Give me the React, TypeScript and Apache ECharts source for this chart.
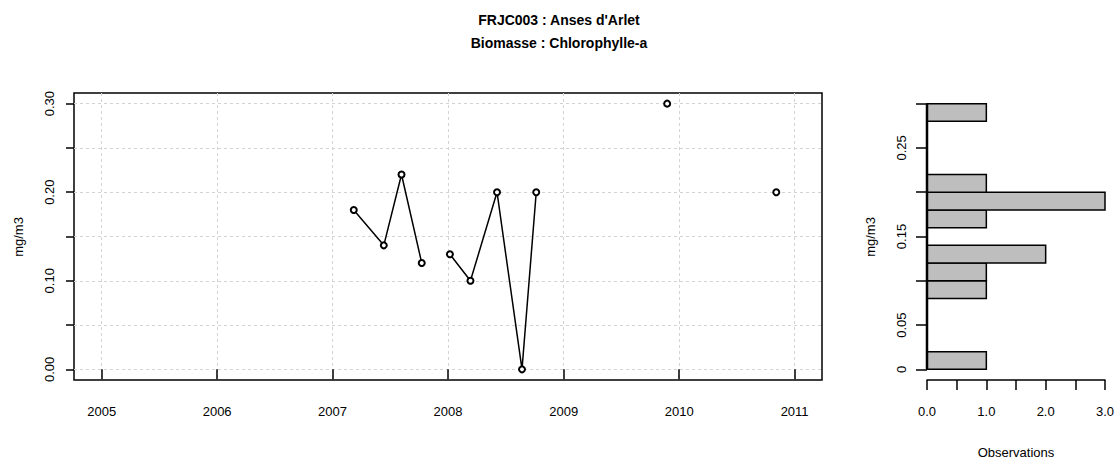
import React, { useEffect, useRef } from 'react';
import * as echarts from 'echarts';

// ---- data ----
const sampleDates = [
  '2007-03-09', '2007-06-12', '2007-08-07', '2007-10-10',
  '2008-01-07', '2008-03-12', '2008-06-04', '2008-08-22', '2008-10-06',
  '2009-11-24', '2010-11-04',
];
const chlaValues = [0.18, 0.14, 0.22, 0.12, 0.13, 0.10, 0.20, 0.00, 0.20, 0.30, 0.20];
// indices where the drawn line is interrupted (no line from the previous point)
const breaksBefore = [4, 9, 10];

const yearTicks = [2005, 2006, 2007, 2008, 2009, 2010, 2011];
const xRangeStart = '2005-01-01';
const xRangeEnd = '2010-12-31';
const yTicks = [0, 0.05, 0.1, 0.15, 0.2, 0.25, 0.3];
const yTickLabels = [0, 0.1, 0.2, 0.3];

// histogram (horizontal) : bins [low, high] and observation counts
const histLow = [0.0, 0.08, 0.1, 0.12, 0.16, 0.18, 0.2, 0.28];
const histHigh = [0.02, 0.1, 0.12, 0.14, 0.18, 0.2, 0.22, 0.3];
const histCounts = [1, 1, 1, 2, 1, 3, 1, 1];
const histYTickLabels = [0, 0.05, 0.15, 0.25];
const histXTicks = [0, 0.5, 1, 1.5, 2, 2.5, 3];
const histXTickLabels = [0, 1, 2, 3];
const histAxisSpan = [0, 0.3];

const titleLines = ["FRJC003 : Anses d'Arlet", 'Biomasse : Chlorophylle-a'];
const yName = 'mg/m3';
const histXName = 'Observations';

const FONT = '"Liberation Sans", Arial, Helvetica, sans-serif';

export default function App() {
  const ref = useRef<HTMLDivElement>(null);

  useEffect(() => {
    if (!ref.current) return;
    const chart = echarts.init(ref.current, undefined, { renderer: 'svg' });

    const t0 = Date.parse(xRangeStart);
    const t1 = Date.parse(xRangeEnd);
    const ext = (t1 - t0) * 0.04;
    const xMin = t0 - ext;
    const xMax = t1 + ext;
    const yearTs = yearTicks.map((y) => Date.UTC(y, 0, 1));

    const lineData: any[] = [];
    sampleDates.forEach((d, i) => {
      const t = Date.parse(d);
      if (breaksBefore.includes(i)) lineData.push([t, '-']);
      lineData.push([t, chlaValues[i]]);
    });

    const histData = histCounts.map((c, i) => [histLow[i], histHigh[i], c]);

    const splitStyle = { color: '#D3D3D3', type: [3, 3] as any, width: 1 };
    const tickStyle = { color: '#000', width: 1.5 };
    const labelBase = { color: '#000', fontSize: 13, fontFamily: FONT };

    chart.setOption({
      animation: false,
      backgroundColor: '#fff',
      textStyle: { fontFamily: FONT },
      grid: [
        { left: 74, top: 93, width: 748, height: 287, show: true, borderColor: '#000', borderWidth: 1.5, backgroundColor: 'transparent' },
        { left: 927, top: 93, width: 178, height: 287, show: false },
      ],
      xAxis: [
        {
          type: 'value', gridIndex: 0, min: xMin, max: xMax,
          axisLine: { show: false },
          axisTick: { show: true, length: 10, customValues: yearTs, lineStyle: tickStyle },
          axisLabel: {
            ...labelBase, customValues: yearTs, margin: 25,
            formatter: (v: number) => String(new Date(v).getUTCFullYear()),
          },
          splitLine: { show: true, lineStyle: splitStyle },
        },
        {
          type: 'value', gridIndex: 1, min: 0, max: 3,
          axisLine: { show: true, onZero: false, lineStyle: { color: '#000', width: 1.5 } },
          axisTick: { show: true, length: 10, customValues: histXTicks, lineStyle: tickStyle },
          axisLabel: { ...labelBase, margin: 25, customValues: histXTickLabels, formatter: (v: number) => v.toFixed(1) },
          splitLine: { show: false },
        },
      ],
      yAxis: [
        {
          type: 'value', gridIndex: 0, min: -0.012, max: 0.312,
          axisLine: { show: false },
          axisTick: { show: true, length: 8, customValues: yTicks, lineStyle: tickStyle },
          axisLabel: { ...labelBase, customValues: yTickLabels, rotate: 90, margin: 18, formatter: (v: number) => v.toFixed(2) },
          splitLine: { show: true, lineStyle: splitStyle },
        },
        {
          type: 'value', gridIndex: 1, min: -0.012, max: 0.312,
          axisLine: { show: false },
          axisTick: { show: true, length: 11, customValues: yTicks, lineStyle: tickStyle },
          axisLabel: {
            ...labelBase, customValues: histYTickLabels, rotate: 90, margin: 19,
            formatter: (v: number) => (v === 0 ? '0' : v.toFixed(2)),
          },
          splitLine: { show: false },
        },
      ],
      series: [
        {
          type: 'line', xAxisIndex: 0, yAxisIndex: 0, data: lineData,
          connectNulls: false,
          symbol: 'emptyCircle', symbolSize: 6,
          lineStyle: { color: '#000', width: 1.5 },
          itemStyle: { color: '#000', borderColor: '#000', borderWidth: 1.5 },
          z: 5,
        },
        {
          type: 'custom', xAxisIndex: 1, yAxisIndex: 1, data: histData,
          encode: { x: 2, y: [0, 1] },
          renderItem: (params: any, api: any) => {
            const lo = api.value(0);
            const hi = api.value(1);
            const c = api.value(2);
            const p0 = api.coord([0, hi]);
            const p1 = api.coord([c, lo]);
            return {
              type: 'rect',
              shape: { x: p0[0], y: p0[1], width: p1[0] - p0[0], height: p1[1] - p0[1] },
              style: { fill: '#BEBEBE', stroke: '#000', lineWidth: 1.5 },
            };
          },
        },
        {
          type: 'custom', xAxisIndex: 1, yAxisIndex: 1, data: [[0, histAxisSpan[0], histAxisSpan[1]]],
          encode: { x: 0, y: [1, 2] },
          renderItem: (params: any, api: any) => {
            const a = api.coord([api.value(0), api.value(1)]);
            const b = api.coord([api.value(0), api.value(2)]);
            return {
              type: 'line',
              shape: { x1: a[0], y1: a[1], x2: b[0], y2: b[1] },
              style: { stroke: '#000', lineWidth: 2.5 },
            };
          },
          z: 6,
        },
      ],
      graphic: [
        { type: 'text', x: 559, y: 20, style: { text: titleLines[0], font: `bold 14px ${FONT}`, fill: '#000', textAlign: 'center', textVerticalAlign: 'middle' } },
        { type: 'text', x: 559, y: 43, style: { text: titleLines[1], font: `bold 14px ${FONT}`, fill: '#000', textAlign: 'center', textVerticalAlign: 'middle' } },
        { type: 'text', x: 18, y: 237, rotation: Math.PI / 2, style: { text: yName, font: `13px ${FONT}`, fill: '#000', textAlign: 'center', textVerticalAlign: 'middle' } },
        { type: 'text', x: 870, y: 237, rotation: Math.PI / 2, style: { text: yName, font: `13px ${FONT}`, fill: '#000', textAlign: 'center', textVerticalAlign: 'middle' } },
        { type: 'text', x: 1016, y: 452, style: { text: histXName, font: `13px ${FONT}`, fill: '#000', textAlign: 'center', textVerticalAlign: 'middle' } },
      ],
    });

    return () => chart.dispose();
  }, []);

  return <div ref={ref} style={{ position: 'fixed', left: 0, top: 0, width: 1118, height: 468 }} />;
}
